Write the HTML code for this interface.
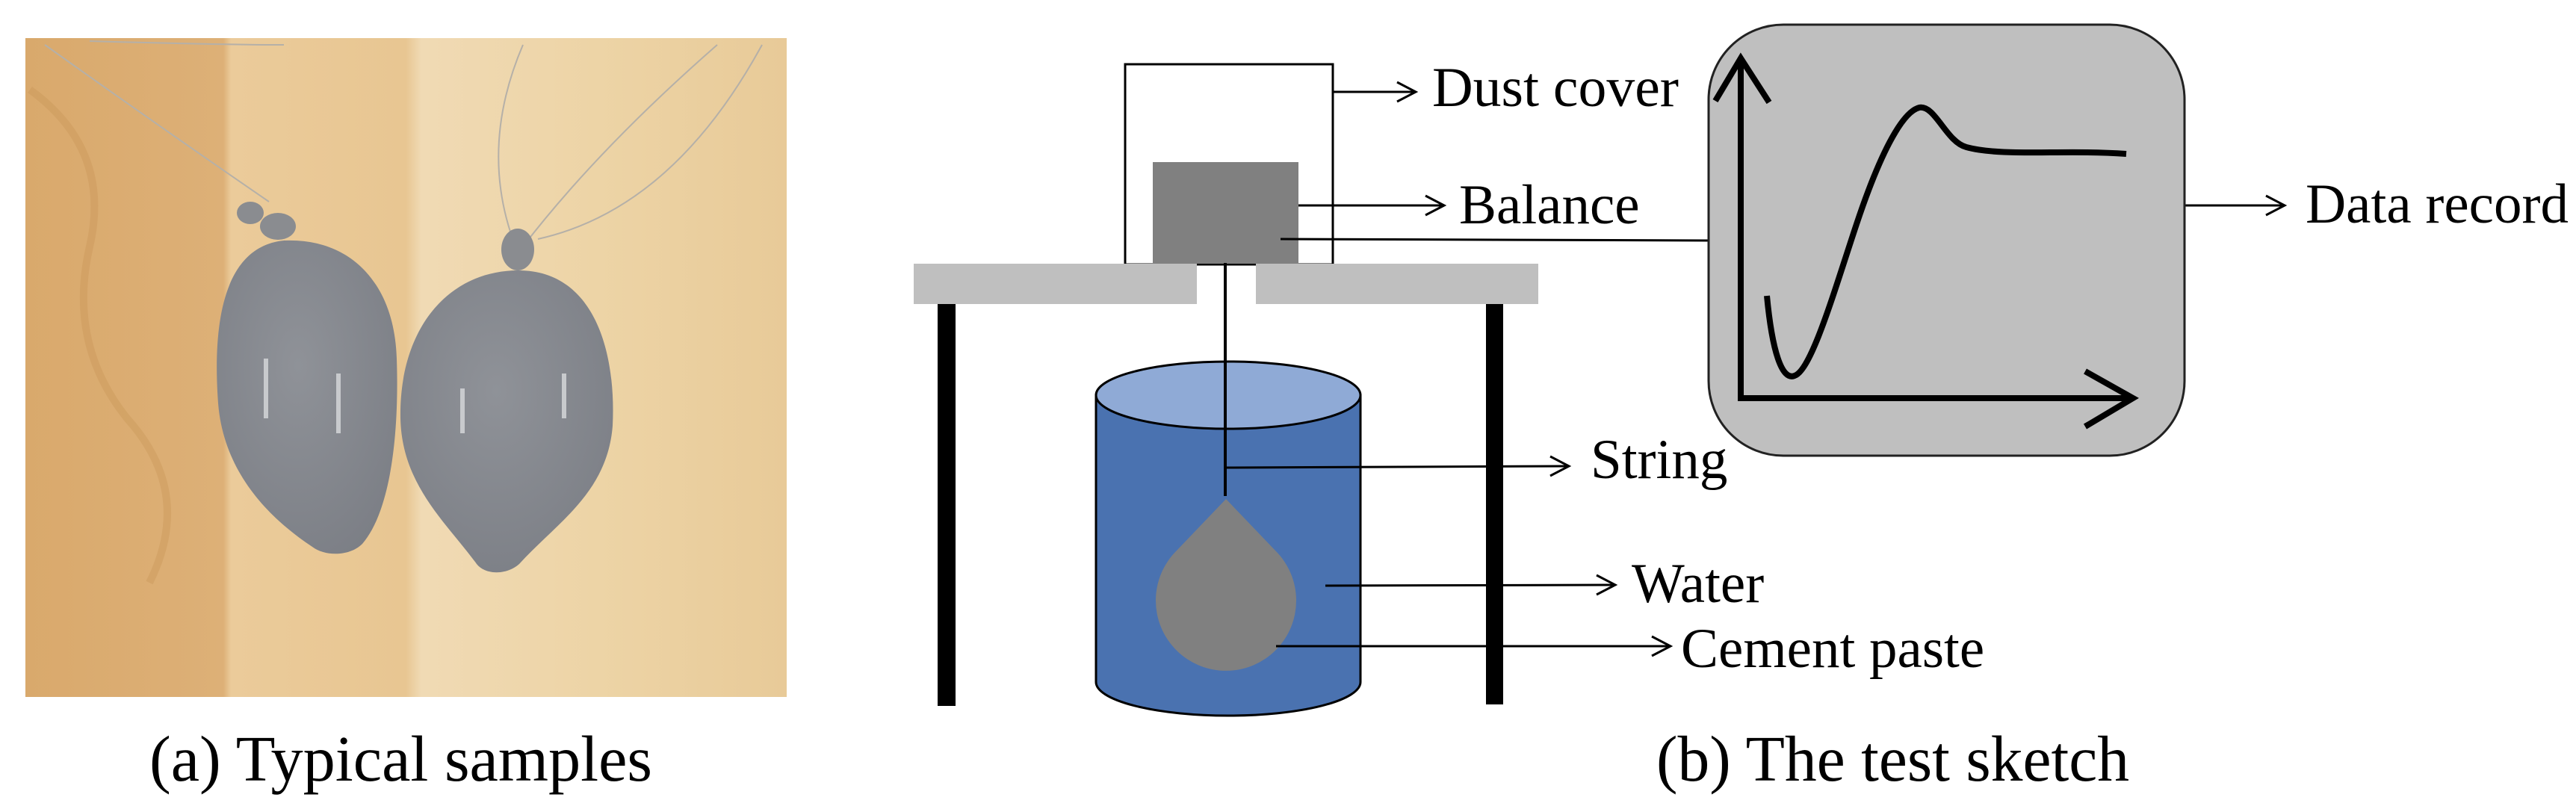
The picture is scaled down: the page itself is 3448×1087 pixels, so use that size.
<!DOCTYPE html>
<html><head><meta charset="utf-8"><style>
html,body{margin:0;padding:0;background:#fff;}
svg{display:block;}
svg text{font-family:"Liberation Serif","Times New Roman",Times,serif !important;fill:#000;}
</style></head><body>
<svg width="3448" height="1087" viewBox="0 0 3448 1087" xmlns="http://www.w3.org/2000/svg" font-family="Liberation Serif, Times New Roman, serif">
<defs>
<linearGradient id="wood" x1="0" y1="0" x2="1" y2="0">
<stop offset="0" stop-color="#d9a96c"/>
<stop offset="0.26" stop-color="#ddb077"/>
<stop offset="0.27" stop-color="#ebcb9a"/>
<stop offset="0.5" stop-color="#e8c692"/>
<stop offset="0.52" stop-color="#f0dab4"/>
<stop offset="0.75" stop-color="#edd4a6"/>
<stop offset="1" stop-color="#e8ca98"/>
</linearGradient>
<radialGradient id="bal" cx="0.45" cy="0.4" r="0.7">
<stop offset="0" stop-color="#8f9298"/>
<stop offset="1" stop-color="#7b7e85"/>
</radialGradient>
</defs>
<!-- photo -->
<rect x="34" y="51" width="1019" height="882" fill="url(#wood)"/>
<path d="M40 120 Q150 200 120 330 Q90 460 170 560 Q260 660 200 780" stroke="#c99658" stroke-width="10" fill="none" opacity="0.4"/>
<path d="M60 60 Q200 160 360 270 M120 55 Q300 60 380 60" stroke="#b5b0a8" stroke-width="2" fill="none"/>
<path d="M690 330 Q640 200 700 60 M700 330 Q800 200 960 60 M720 320 Q900 280 1020 60" stroke="#b5b0a8" stroke-width="2" fill="none"/>
<path d="M380 322 C470 318 528 380 531 480 C535 600 518 690 485 728 C468 745 435 745 418 732 C370 700 300 640 292 540 C284 430 300 330 380 322 Z" fill="url(#bal)"/>
<path d="M694 362 C795 362 825 470 820 570 C813 660 745 700 695 755 C678 770 650 770 638 755 C598 700 538 650 536 560 C534 440 600 362 694 362 Z" fill="url(#bal)"/>
<ellipse cx="372" cy="303" rx="24" ry="18" fill="#8a8c90"/>
<ellipse cx="335" cy="285" rx="18" ry="15" fill="#8a8c90"/>
<ellipse cx="693" cy="334" rx="22" ry="28" fill="#8a8c90"/>
<rect x="353" y="480" width="6" height="80" fill="#c8cacd"/>
<rect x="450" y="500" width="6" height="80" fill="#c8cacd"/>
<rect x="616" y="520" width="6" height="60" fill="#c8cacd"/>
<rect x="752" y="500" width="6" height="60" fill="#c8cacd"/>
<text x="200" y="1045" font-size="87" textLength="673" lengthAdjust="spacingAndGlyphs">(a) Typical samples</text>

<!-- sketch -->
<rect x="1506" y="86" width="278" height="268" fill="#fff" stroke="#000" stroke-width="3"/>
<rect x="1543" y="217" width="195" height="135" fill="#808080"/>
<rect x="1223" y="353" width="379" height="54" fill="#bfbfbf"/>
<rect x="1681" y="353" width="378" height="54" fill="#bfbfbf"/>
<rect x="1255" y="407" width="24" height="538" fill="#000"/>
<rect x="1989" y="407" width="23" height="536" fill="#000"/>
<path d="M1467 529 L1467 913 A177 45 0 0 0 1821 913 L1821 529 Z" fill="#4a72b0" stroke="#000" stroke-width="3"/>
<ellipse cx="1644" cy="529" rx="177" ry="45" fill="#8faad6" stroke="#000" stroke-width="3"/>
<path d="M1641 668 L1575 737 A94 94 0 1 0 1707 737 Z" fill="#808080"/>
<line x1="1640" y1="352" x2="1640" y2="664" stroke="#000" stroke-width="4"/>
<g stroke="#000" stroke-width="3" fill="none">
<line x1="1784" y1="123" x2="1893" y2="123"/><path d="M1870 110 L1895 123 L1870 136"/>
<line x1="1738" y1="275" x2="1931" y2="275"/><path d="M1908 262 L1933 275 L1908 288"/>
<line x1="1714" y1="320" x2="2287" y2="322"/>
<line x1="1640" y1="626" x2="2098" y2="624"/><path d="M2075 611 L2100 624 L2075 637"/>
<line x1="1774" y1="784" x2="2160" y2="783"/><path d="M2137 770 L2162 783 L2137 796"/>
<line x1="1708" y1="865" x2="2234" y2="865"/><path d="M2211 852 L2236 865 L2211 878"/>
<line x1="2890" y1="275" x2="3056" y2="275"/><path d="M3033 262 L3058 275 L3033 288"/>
</g>
<rect x="2287" y="33" width="637" height="577" rx="100" ry="100" fill="#bfbfbf" stroke="#222" stroke-width="3"/>
<g stroke="#000" stroke-width="8" fill="none">
<path d="M2330 78 L2330 533 L2855 533"/>
<path d="M2296 135 L2330 78 L2368 137"/>
<path d="M2791 497 L2855 533 L2791 571"/>
<path d="M2365 396 C2372 470 2385 510 2402 503 C2425 495 2455 390 2485 300 C2515 210 2545 150 2569 144 C2590 140 2605 190 2632 197 C2680 210 2760 200 2846 206"/>
</g>
<g font-size="75">
<text x="1917" y="142" textLength="330" lengthAdjust="spacingAndGlyphs">Dust cover</text>
<text x="1953" y="299">Balance</text>
<text x="2129" y="640">String</text>
<text x="2184" y="806">Water</text>
<text x="2250" y="893">Cement paste</text>
<text x="3086" y="298" textLength="352" lengthAdjust="spacingAndGlyphs">Data record</text>
</g>
<text x="2217" y="1045" font-size="87" textLength="633" lengthAdjust="spacingAndGlyphs">(b) The test sketch</text>
</svg>
</body></html>
